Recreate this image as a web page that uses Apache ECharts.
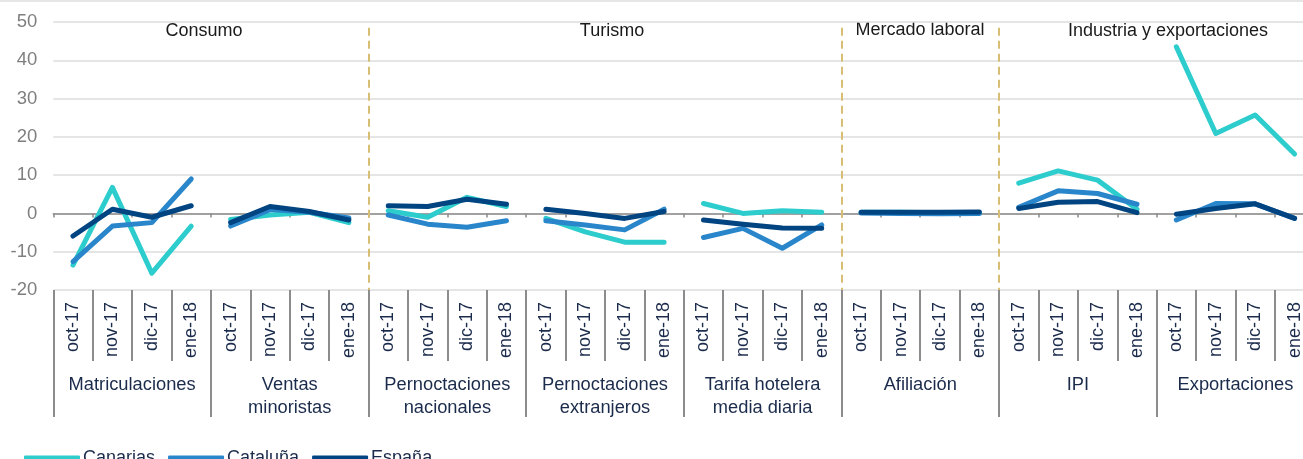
<!DOCTYPE html>
<html>
<head>
<meta charset="utf-8">
<script src="https://cdn.jsdelivr.net/npm/echarts@6/dist/echarts.min.js"></script>
<style>
html,body{margin:0;padding:0;background:#fff;}
#chart{width:1303px;height:459px;}
</style>
</head>
<body>
<div id="chart"></div>
<script>
// ---- data ----
const months = ['oct-17', 'nov-17', 'dic-17', 'ene-18'];
const groups = ['Matriculaciones', 'Ventas\nminoristas', 'Pernoctaciones\nnacionales', 'Pernoctaciones\nextranjeros', 'Tarifa hotelera\nmedia diaria', 'Afiliación', 'IPI', 'Exportaciones'];
const sections = ['Consumo', 'Turismo', 'Mercado laboral', 'Industria y exportaciones'];
const sectionBreaks = [8, 20, 24];
const regions = ['Canarias', 'Cataluña', 'España'];
const canarias = [-13.5, 6.8, -15.6, -3.3,  -1.6, -0.4, 0.3, -2.4,  0.7, -1.0, 4.2, 1.8,  -1.3, -4.8, -7.5, -7.5,  2.6, 0.0, 0.7, 0.3,  0.3, 0.3, 0.2, 0.2,  7.9, 11.1, 8.7, 1.1,  43.5, 20.9, 25.7, 15.5];
const cataluna = [-12.6, -3.3, -2.4, 9.0,  -3.3, 1.0, 0.3, -1.2,  -0.4, -2.8, -3.6, -1.9,  -1.9, -3.0, -4.3, 1.1,  -6.3, -3.9, -9.1, -3.0,  0.1, 0.0, -0.1, 0.0,  1.6, 5.9, 5.2, 2.4,  -1.7, 2.6, 2.5, -1.3];
const espana = [-5.9, 1.1, -1.0, 2.0,  -2.4, 1.8, 0.5, -1.7,  2.0, 1.8, 3.7, 2.4,  1.1, 0.0, -1.3, 0.5,  -1.7, -2.8, -3.8, -3.9,  0.3, 0.3, 0.3, 0.4,  1.3, 2.9, 3.1, 0.2,  -0.2, 1.3, 2.5, -1.3];
const yTicks = [-20, -10, 0, 10, 20, 30, 40, 50];

// ---- build ----
const colors = ['#2DCCCD', '#2A86CA', '#004481'];
const values = [canarias, cataluna, espana];
const cats = [];
groups.forEach(() => months.forEach(m => cats.push(m)));
const navy = '#1b2b4b';
const plainFont = "'Liberation Sans', Arial, sans-serif";

const series = [];
regions.forEach((r, ri) => {
  groups.forEach((g, gi) => {
    const d = cats.map((c, i) => (Math.floor(i / months.length) === gi ? values[ri][i] : null));
    series.push({
      name: r, type: 'line', xAxisIndex: 0, yAxisIndex: 0,
      data: d, showSymbol: false, symbol: 'none', connectNulls: false,
      lineStyle: { color: colors[ri], width: 5, cap: 'round', join: 'round' },
      itemStyle: { color: colors[ri] },
      z: 3 + ri, silent: true
    });
  });
});
// separators (on hidden value axis)
series.push({
  name: 'sep', type: 'line', xAxisIndex: 3, yAxisIndex: 0, data: [], silent: true,
  markLine: {
    symbol: 'none', silent: true, label: { show: false },
    lineStyle: { color: '#D8BE75', width: 2, type: [8, 5] },
    data: sectionBreaks.map(b => [{ coord: [b, 48.5] }, { coord: [b, yTicks[0]] }])
  }
});

const chart = echarts.init(document.getElementById('chart'), null, { renderer: 'canvas' });
const option = {
  animation: false,
  backgroundColor: '#fff',
  grid: { left: 53.3, top: 22, width: 1261, height: 268, containLabel: false, outerBoundsMode: 'none' },
  legend: {
    data: regions, left: 19, top: 444, icon: 'roundRect', itemWidth: 56, itemHeight: 5, itemGap: 13,
    textStyle: { fontSize: 18, color: navy, fontFamily: plainFont, padding: [0, 0, 0, -2] }
  },
  xAxis: [
    { type: 'category', data: cats, boundaryGap: true, position: 'bottom',
      axisLine: { show: true, onZero: true, lineStyle: { color: '#8a8a8a', width: 1.5 } },
      axisTick: { show: true, length: 4, interval: 0, lineStyle: { color: '#8a8a8a', width: 1.5 } },
      axisLabel: { show: false }, splitLine: { show: false } },
    { type: 'category', data: cats, boundaryGap: true, position: 'bottom',
      axisLine: { show: false, onZero: false },
      axisTick: { show: true, length: 71, interval: 0, lineStyle: { color: '#8c8c8c', width: 2 } },
      axisLabel: { show: true, interval: 0, rotate: 90, margin: 12, fontSize: 18, color: navy, fontFamily: plainFont },
      splitLine: { show: false } },
    { type: 'category', data: groups, boundaryGap: true, position: 'bottom',
      axisLine: { show: false, onZero: false },
      axisTick: { show: true, length: 127, interval: 0, lineStyle: { color: '#8c8c8c', width: 2 } },
      axisLabel: { show: true, interval: 0, margin: 84, fontSize: 18.3, lineHeight: 22.5, color: navy, fontFamily: plainFont },
      splitLine: { show: false } },
    { type: 'value', min: 0, max: cats.length, show: false, position: 'top',
      axisLine: { onZero: false }, splitLine: { show: false } }
  ],
  yAxis: [{
    type: 'value', min: yTicks[0], max: yTicks[yTicks.length - 1], interval: 10,
    axisLine: { show: false }, axisTick: { show: false },
    axisLabel: { margin: 16, fontSize: 18.5, color: '#7f7f7f', fontFamily: plainFont },
    splitLine: { show: true, lineStyle: { color: '#dcdcdc', width: 1.5 } }
  }],
  series: series,
  graphic: [
    { type: 'rect', left: 0, top: 0, shape: { width: 1303, height: 2 }, style: { fill: '#e6e6e6' }, silent: true },
    { type: 'text', x: 204, y: 31, style: { text: sections[0], fontSize: 18, fill: '#1a1a1a', fontFamily: plainFont, align: 'center', verticalAlign: 'middle' } },
    { type: 'text', x: 612, y: 31, style: { text: sections[1], fontSize: 18, fill: '#1a1a1a', fontFamily: plainFont, align: 'center', verticalAlign: 'middle' } },
    { type: 'text', x: 920, y: 30, style: { text: sections[2], fontSize: 18, fill: '#1a1a1a', fontFamily: plainFont, align: 'center', verticalAlign: 'middle' } },
    { type: 'text', x: 1168, y: 31, style: { text: sections[3], fontSize: 18, fill: '#1a1a1a', fontFamily: plainFont, align: 'center', verticalAlign: 'middle' } }
  ]
};
chart.setOption(option);
</script>
</body>
</html>
